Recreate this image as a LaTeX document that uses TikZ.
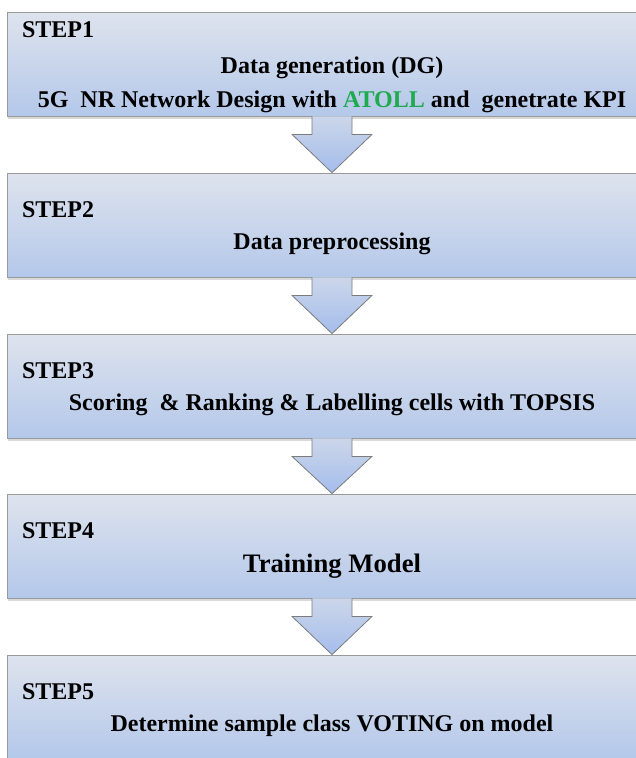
\documentclass[tikz,border=0pt]{standalone}
\usepackage{fontspec}
\setmainfont{Liberation Serif}[BoldFont={Liberation Serif Bold}]
\usetikzlibrary{calc,shadows}
\definecolor{boxtop}{HTML}{DEE3ED}
\definecolor{boxbot}{HTML}{B4C8EA}
\definecolor{arrtop}{HTML}{CCD6EA}
\definecolor{arrbot}{HTML}{A4BDEB}
\definecolor{edge}{HTML}{9A9A9A}
\definecolor{atoll}{HTML}{1FAA4F}
\tikzset{px/.style={x=.75pt,y=-.75pt,line width=.6pt},
  stepbox/.style={draw=edge,top color=boxtop,bottom color=boxbot,minimum width=487.5pt,minimum height=78pt,inner sep=0pt,
    drop shadow={shadow xshift=1pt,shadow yshift=-2.5pt,opacity=.3}},
  steplbl/.style={font=\rmfamily\bfseries\fontsize{18}{20}\selectfont,anchor=base west,inner sep=0pt},
  steptxt/.style={font=\rmfamily\bfseries\fontsize{18}{20}\selectfont,anchor=base,inner sep=0pt},
  blockarr/.style={draw=edge!80!black,top color=arrtop,bottom color=arrbot,line join=miter}}

\begin{document}
\begin{tikzpicture}[px]
  \useasboundingbox (0,0) rectangle (636,758);
  \clip (0,0) rectangle (636,758);
  % the five steps
  \node[stepbox] (s1) at (332,64) {};
  \node[stepbox] (s2) at (332,225) {};
  \node[stepbox] (s3) at (332,386) {};
  \node[stepbox] (s4) at (332,546) {};
  \node[stepbox] (s5) at (332,707) {};
  \foreach \a/\b in {s1/s2,s2/s3,s3/s4,s4/s5}{
    \draw[blockarr] ($(\a.south)+(-20,0)$) -- ($(\a.south)+(-20,18)$) -- ($(\a.south)+(-40,18)$) -- (\b.north)
      -- ($(\a.south)+(40,18)$) -- ($(\a.south)+(20,18)$) -- ($(\a.south)+(20,0)$);}
  \node[steplbl] (l1) at ($(s1.north west)+(15,26)$) {STEP1};
  \node[steptxt] (t1a) at ($(s1.north)+(0,62)$) {Data generation (DG)};
  \node[steptxt] (t1b) at ($(s1.north)+(0,96)$) {5G\ \ NR Network Design with \textcolor{atoll}{ATOLL} and\ \ genetrate KPI};
  \node[steplbl] (l2) at ($(s2.north west)+(15,45)$) {STEP2};
  \node[steptxt] (t2) at ($(s2.north)+(0,77)$) {Data preprocessing};
  \node[steplbl] (l3) at ($(s3.north west)+(15,45)$) {STEP3};
  \node[steptxt] (t3) at ($(s3.north)+(0,77)$) {Scoring\ \ \& Ranking \& Labelling cells with TOPSIS};
  \node[steplbl] (l4) at ($(s4.north west)+(15,45)$) {STEP4};
  \node[steptxt,font=\rmfamily\bfseries\fontsize{20}{22}\selectfont] (t4) at ($(s4.north)+(0,79)$) {Training Model};
  \node[steplbl] (l5) at ($(s5.north west)+(15,45)$) {STEP5};
  \node[steptxt] (t5) at ($(s5.north)+(0,77)$) {Determine sample class VOTING on model};
\end{tikzpicture}
\end{document}
